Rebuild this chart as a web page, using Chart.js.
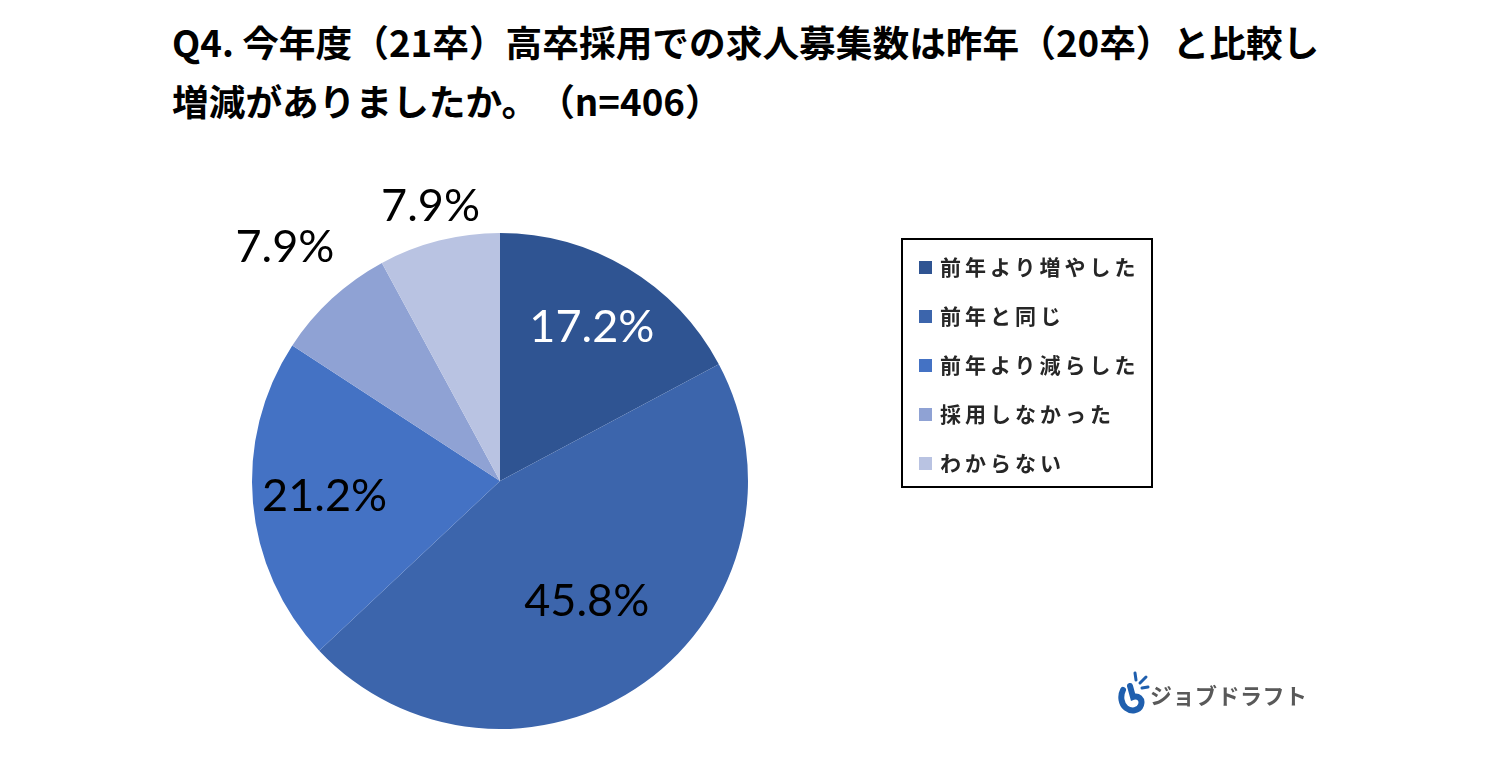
<!DOCTYPE html>
<html lang="ja">
<head>
  <meta charset="UTF-8">
  <title>Q4 求人募集数</title>
  <script src="https://cdn.jsdelivr.net/npm/chart.js"></script>
  <style>
    html, body { margin: 0; padding: 0; background: #fff; }
    body { width: 1500px; height: 758px; position: relative; overflow: hidden;
           font-family: "Noto Sans CJK JP", "Noto Sans", sans-serif; }
    #title { position: absolute; left: 172px; top: 12px; font-size: 36.7px; font-weight: 700;
             line-height: 59px; color: #000; white-space: nowrap; }
    #title .gap { display: inline-block; width: 0px; }
    #wrap { position: absolute; left: 0; top: 0; width: 1500px; height: 758px; }
    #legend { position: absolute; left: 901px; top: 238px; width: 248px; height: 246px;
              border: 2px solid #000; box-sizing: content-box; }
    #legend .item { position: absolute; left: 16px; height: 30px; line-height: 30px;
                    font-size: 21px; font-weight: 700; color: #262626; letter-spacing: 4px; white-space: nowrap; }
    #legend .box { display: inline-block; width: 13px; height: 13px; margin-right: 8px; vertical-align: 1px; }
    #logo { position: absolute; left: 1118px; top: 670px; height: 48px; }
    #logo span { position: absolute; left: 32px; top: 8px; font-size: 22px; font-weight: 700; color: #595959;
                 letter-spacing: 0.5px; white-space: nowrap; }
  </style>
</head>
<body>

<div id="title">Q4. 今年度（21卒）高卒採用での求人募集数は昨年（20卒）と比較し<br>増減がありましたか。<span class="gap"></span>（n=406）</div>

<div id="wrap"><canvas id="pie"></canvas></div>

<div id="legend"></div>

<!-- logo -->
<div id="logo">
  <svg width="32" height="48" viewBox="0 0 32 48">
    <path d="M5 20 C2 26 3 34 8 38 C13 42 21 41 23 35 C25 29 20 25 15 27 L12 16" fill="none" stroke="#1f5fae" stroke-width="6" stroke-linecap="round"/>
    <path d="M18 10 L17 3 M22 13 L28 7 M24 18 L30 17" stroke="#1f5fae" stroke-width="3" stroke-linecap="round"/>
  </svg>
  <span>ジョブドラフト</span>
</div>

<script>
// data
const categories = ['前年より増やした', '前年と同じ', '前年より減らした', '採用しなかった', 'わからない'];
const percents = [17.2, 45.8, 21.2, 7.9, 7.9];
const sliceColors = ['#2f5492', '#3c65ac', '#4472c4', '#8fa2d4', '#b9c3e2'];

// where each % label sits, as a fraction of the radius, and its colour
const labelRadius = [0.72, 0.60, 0.71, 1.28, 1.14];
const labelColors = ['#ffffff', '#000000', '#000000', '#000000', '#000000'];

// legend built from the arrays
const leg = document.getElementById('legend');
categories.forEach(function (c, i) {
  const d = document.createElement('div');
  d.className = 'item';
  d.style.top = (11 + i * 49) + 'px';
  d.innerHTML = '<span class="box" style="background:' + sliceColors[i] + '"></span>' + c;
  leg.appendChild(d);
});

// draws the percentage labels
const pctLabels = {
  id: 'pctLabels',
  afterDatasetsDraw(chart) {
    const ctx = chart.ctx;
    const meta = chart.getDatasetMeta(0);
    ctx.save();
    ctx.font = '45px Lato, "Liberation Sans", sans-serif';
    ctx.textAlign = 'center';
    ctx.textBaseline = 'middle';
    meta.data.forEach(function (arc, i) {
      const mid = (arc.startAngle + arc.endAngle) / 2;
      const r = arc.outerRadius * labelRadius[i];
      const x = arc.x + Math.cos(mid) * r;
      const y = arc.y + Math.sin(mid) * r;
      ctx.fillStyle = labelColors[i];
      ctx.fillText(percents[i].toFixed(1) + '%', x, y);
    });
    ctx.restore();
  }
};

new Chart(document.getElementById('pie'), {
  type: 'pie',
  data: {
    labels: categories,
    datasets: [{
      data: percents,
      backgroundColor: sliceColors,
      borderWidth: 0
    }]
  },
  options: {
    responsive: true,
    maintainAspectRatio: false,
    animation: false,
    layout: { padding: { left: 252, right: 752, top: 233, bottom: 29 } },
    plugins: {
      legend: { display: false },
      tooltip: { enabled: false }
    }
  },
  plugins: [pctLabels]
});
</script>
</body>
</html>
